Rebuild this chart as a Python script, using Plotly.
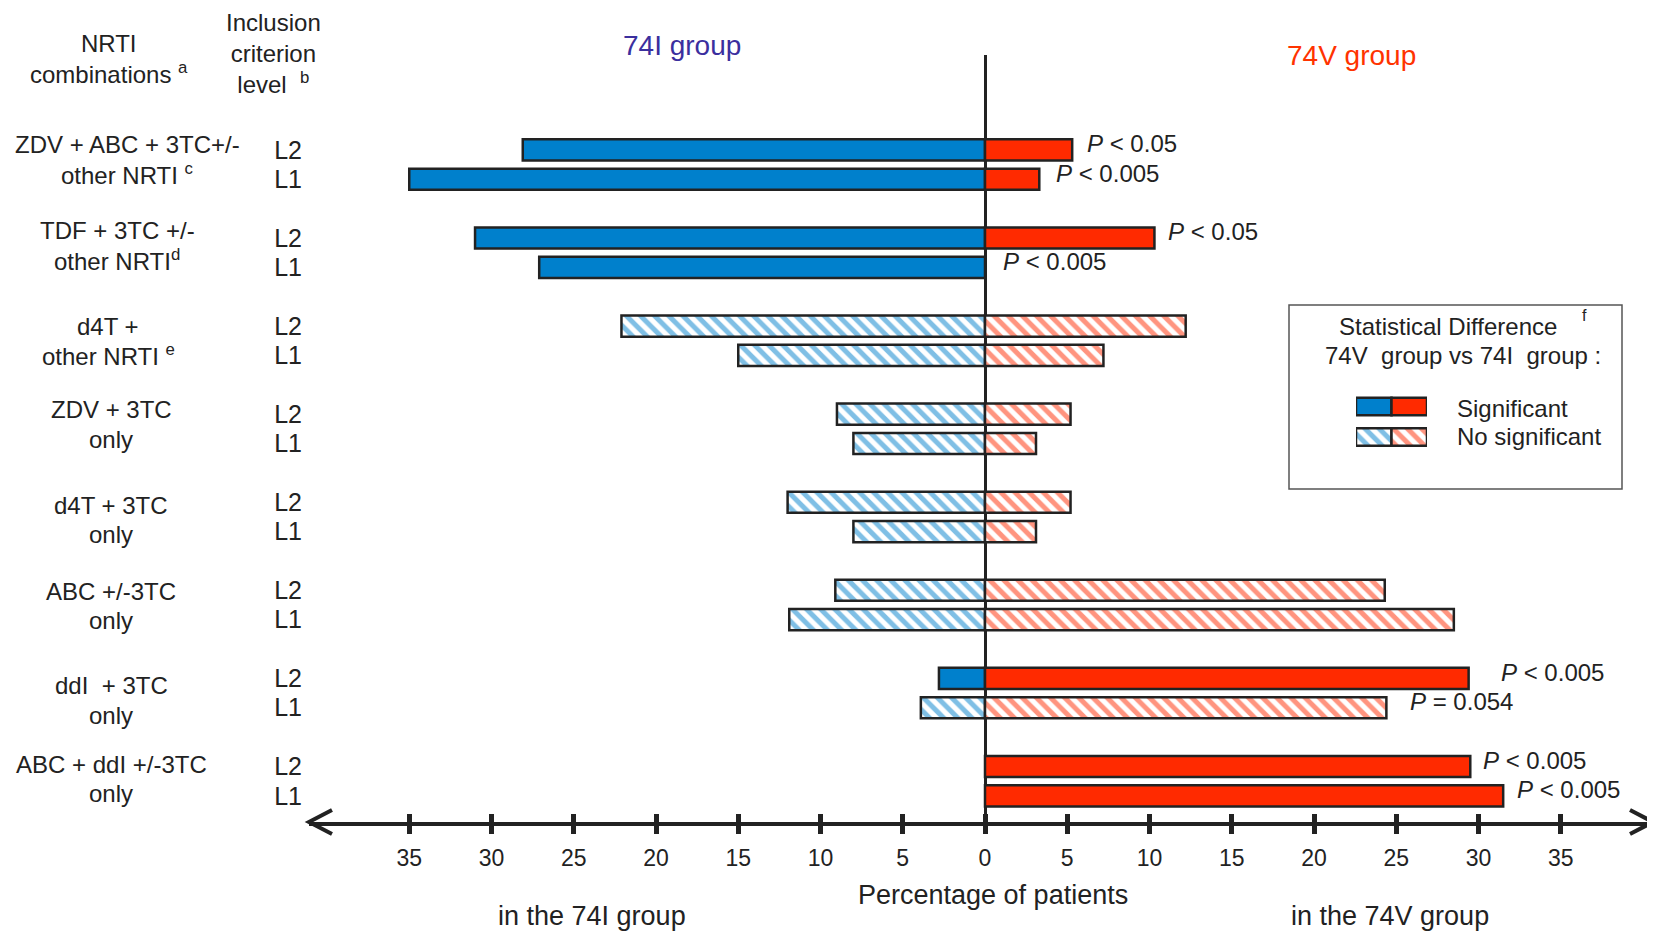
import plotly.graph_objects as go

# ---------------- data ----------------
combinations = [
    "ZDV + ABC + 3TC+/-<br>other NRTI <sup>c</sup>",
    "TDF + 3TC +/-<br>other NRTI<sup>d</sup>",
    "d4T +<br>other NRTI <sup>e</sup>",
    "ZDV + 3TC<br>only",
    "d4T + 3TC<br>only",
    "ABC +/-3TC<br>only",
    "ddI  + 3TC<br>only",
    "ABC + ddI +/-3TC<br>only",
]
levels = ["L2", "L1"]
# one value per row: (combination, level) in order L2, L1
pct_74I = [28.1, 35.0, 31.0, 27.1, 22.1, 15.0, 9.0, 8.0,
           12.0, 8.0, 9.1, 11.9, 2.8, 3.9, None, None]
pct_74V = [5.3, 3.3, 10.3, None, 12.2, 7.2, 5.2, 3.1,
           5.2, 3.1, 24.3, 28.5, 29.4, 24.4, 29.5, 31.5]
significant = [True, True, True, True, False, False, False, False,
               False, False, False, False, True, False, True, True]
p_labels = ["P < 0.05", "P < 0.005", "P < 0.05", "P < 0.005", "", "", "", "",
            "", "", "", "", "P < 0.005", "P = 0.054", "P < 0.005", "P < 0.005"]
tick_values = [-35, -30, -25, -20, -15, -10, -5, 0, 5, 10, 15, 20, 25, 30, 35]

# ---------------- style / layout ----------------
BLUE = "#0080CC"
RED = "#FF2A00"
INK = "#222222"
FONT = "Liberation Sans, Arial, sans-serif"
PAGE_OFFSET = 8                      # browser body margin
W, H = 1655 - PAGE_OFFSET, 931 - PAGE_OFFSET
# plot area in reference-picture pixels
REF_L, REF_R, REF_T, REF_B = 309, 1653, 55, 822
ML, MT = REF_L - PAGE_OFFSET, REF_T - PAGE_OFFSET
MR = W - (REF_R - PAGE_OFFSET)
MB = H - (REF_B - PAGE_OFFSET)
PW, PH = REF_R - REF_L, REF_B - REF_T
X0_PIX, X_UNIT = 985, 16.45          # zero position and px per percent
Y0_PIX, Y_UNIT = 149.9, 29.36        # first row position and px per row unit

# label placement tweaks (pixels)
label_x = [127, 117, 108, 111, 111, 111, 111, 111]
label_dy = [-5, -7, 0, -4, 3, 1, 7, -2]


def px(xp):
    return (xp - REF_L) / PW


def py(yp):
    return (REF_B - yp) / PH


# row positions: L2 / L1 of each combination, 3 units per combination
rows, row_levels = [], []
for gi in range(len(combinations)):
    for li, lev in enumerate(levels):
        rows.append(3 * gi + li)
        row_levels.append(lev)


def pick(vals, flag, neg):
    out = []
    for v, s in zip(vals, significant):
        if v is None or s != flag:
            out.append(None)
        else:
            out.append(-v if neg else v)
    return out


def hatch(color, size=10):
    return dict(shape="\\", fgcolor=color, bgcolor="white", size=size, solidity=0.5)


fig = go.Figure()
bar_line = dict(color=INK, width=2.5)
common = dict(orientation="h", y=rows, width=0.72, showlegend=False, hoverinfo="x+y")

fig.add_trace(go.Bar(x=pick(pct_74I, True, True), marker=dict(color=BLUE, line=bar_line), **common))
fig.add_trace(go.Bar(x=pick(pct_74I, False, True),
                     marker=dict(color="white", line=bar_line, pattern=hatch(BLUE)), **common))
fig.add_trace(go.Bar(x=pick(pct_74V, True, False), marker=dict(color=RED, line=bar_line), **common))
fig.add_trace(go.Bar(x=pick(pct_74V, False, False),
                     marker=dict(color="white", line=bar_line, pattern=hatch(RED)), **common))
# invisible trace so the overlay axis (inside ticks) is drawn
fig.add_trace(go.Scatter(x=[None], y=[None], xaxis="x2", showlegend=False, hoverinfo="skip"))

# legend swatches in an inset axis
leg = dict(orientation="h", width=0.57, xaxis="x3", yaxis="y3", showlegend=False, hoverinfo="skip")
fig.add_trace(go.Bar(x=[1], y=[0], base=[0], marker=dict(color=BLUE, line=bar_line), **leg))
fig.add_trace(go.Bar(x=[1], y=[0], base=[1], marker=dict(color=RED, line=bar_line), **leg))
fig.add_trace(go.Bar(x=[1], y=[1], base=[0],
                     marker=dict(color="white", line=bar_line, pattern=hatch(BLUE, 10)), **leg))
fig.add_trace(go.Bar(x=[1], y=[1], base=[1],
                     marker=dict(color="white", line=bar_line, pattern=hatch(RED, 10)), **leg))

x_lo = (REF_L - X0_PIX) / X_UNIT
x_hi = (REF_R - X0_PIX) / X_UNIT
y_top = (REF_T - Y0_PIX) / Y_UNIT
y_bot = (REF_B - Y0_PIX) / Y_UNIT

tick_text = [str(abs(v)) for v in tick_values]

fig.update_layout(
    width=W, height=H,
    margin=dict(l=ML, r=MR, t=MT, b=MB, pad=0),
    paper_bgcolor="white", plot_bgcolor="white",
    barmode="overlay",
    font=dict(family=FONT, color=INK, size=22),
    xaxis=dict(range=[x_lo, x_hi], tickvals=tick_values, ticktext=tick_text,
               ticks="outside", ticklen=8, tickwidth=5, tickcolor=INK,
               showline=True, linewidth=4, linecolor=INK,
               showgrid=False, zeroline=True, zerolinewidth=3, zerolinecolor=INK,
               ticklabelstandoff=4, tickfont=dict(size=23)),
    xaxis2=dict(overlaying="x", matches="x", anchor="y", side="bottom",
                tickvals=tick_values, ticks="inside", ticklen=8, tickwidth=5,
                tickcolor=INK, showticklabels=False, showline=False,
                showgrid=False, zeroline=False),
    yaxis=dict(range=[y_bot, y_top], tickvals=rows, ticktext=row_levels,
               ticks="", showline=False, showgrid=False, zeroline=False,
               tickfont=dict(size=25), ticklabelstandoff=6),
    xaxis3=dict(domain=[px(1356), px(1427)], range=[0, 2], anchor="y3",
                visible=False, fixedrange=True),
    yaxis3=dict(domain=[py(452.25), py(391.25)], range=[1.5, -0.5], anchor="x3",
                visible=False, fixedrange=True),
)

ann = []
# combination labels: first line beside the L2 row, second beside the L1 row
for gi, name in enumerate(combinations):
    for li, line in enumerate(name.split("<br>")):
        ann.append(dict(x=px(label_x[gi]), xref="paper", y=3 * gi + li, yref="y",
                        text=line, showarrow=False, xanchor="center", yanchor="middle",
                        font=dict(size=24), yshift=-label_dy[gi] * 1.056))
# p-value labels
p_shift = [13, 15, 12, 16, 0, 0, 0, 0, 0, 0, 0, 0, 30, 22, 11, 12]
for i, lab in enumerate(p_labels):
    if not lab:
        continue
    v = pct_74V[i] or 0
    txt = "<i>P</i> " + lab[2:].replace("<", "&lt;")
    ann.append(dict(x=v, xref="x", y=rows[i], yref="y", text=txt, showarrow=False,
                    xanchor="left", yanchor="middle", xshift=p_shift[i], yshift=6,
                    font=dict(size=24)))
# headers and other texts (positions in reference pixels)
texts = [
    (109, 59, "NRTI<br>combinations <sup>a</sup>", 24, INK),
    (273, 53, "Inclusion<br>criterion<br>level  <sup>b</sup>", 24, INK),
    (682, 46, "74I group", 28, "#3B2F9E"),
    (1351, 56, "74V group", 28, "#FF3300"),
    (993, 895, "Percentage of patients", 27, INK),
    (592, 916, "in the 74I group", 27, INK),
    (1390, 916, "in the 74V group", 27, INK),
    (1448, 326, "Statistical Difference", 24, INK),
    (1584, 316, "f", 16, INK),
    (1463, 355, "74V  group vs 74I  group :", 24, INK),
]
for xp, yp, t, s, c in texts:
    ann.append(dict(x=px(xp), y=py(yp), xref="paper", yref="paper", text=t,
                    showarrow=False, xanchor="center", yanchor="middle",
                    font=dict(size=s, color=c)))
for txt, yp in [("Significant", 408), ("No significant", 436)]:
    ann.append(dict(x=px(1455), y=py(yp), xref="paper", yref="paper", text=txt,
                    showarrow=False, xanchor="left", yanchor="middle", font=dict(size=24)))
fig.update_layout(annotations=ann)

# decorations: arrow heads and legend frame
dx, dy = 23 / PW, 12 / PH
fig.add_shape(type="path", xref="paper", yref="paper",
              path=f"M {dx},{dy} L 0,0 L {dx},{-dy}", line=dict(color=INK, width=4))
fig.add_shape(type="path", xref="paper", yref="paper",
              path=f"M {1 - dx},{dy} L 1,0 L {1 - dx},{-dy}", line=dict(color=INK, width=4))
fig.add_shape(type="rect", xref="paper", yref="paper",
              x0=px(1289), x1=px(1622), y0=py(489), y1=py(305),
              line=dict(color="#555555", width=1.5))

fig.write_html("out.html")
